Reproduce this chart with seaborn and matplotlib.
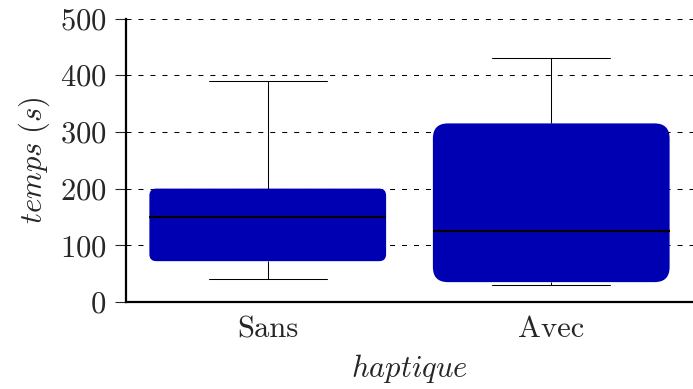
import pandas as pd
import matplotlib
matplotlib.use('Agg')
import matplotlib.pyplot as plt
import seaborn as sns
from matplotlib.patches import FancyBboxPatch

# five-number summaries (min, q1, median, q3, max)
categories = ['Sans', 'Avec']
sans_values = [40, 72, 150, 200, 390]
avec_values = [30, 35, 125, 315, 430]
yticks = [0, 100, 200, 300, 400, 500]

df = pd.DataFrame({
    'haptique': ['Sans'] * len(sans_values) + ['Avec'] * len(avec_values),
    'temps': sans_values + avec_values,
})

sns.set_style('white')
plt.rcParams['font.family'] = 'serif'
plt.rcParams['font.serif'] = ['cmr10', 'DejaVu Serif']
plt.rcParams['mathtext.fontset'] = 'cm'
plt.rcParams['axes.formatter.use_mathtext'] = True

blue = '#0000B3'
fs = 22

fig = plt.figure(figsize=(6.93, 3.89), dpi=100)
ax = fig.add_axes([0.1818, 0.2237, 0.8182, 0.7287])

sns.boxplot(data=df, x='haptique', y='temps', order=categories, ax=ax,
            width=0.835, whis=(0, 100), color=blue, saturation=1,
            linecolor='black', linewidth=0.75,
            medianprops=dict(color='black', linewidth=1.6))

ax.set_xlim(-0.5, 1.5)
ax.set_ylim(0, 500)
ax.set_yticks(yticks)

# swap the square boxes for rounded ones
fig.canvas.draw()
px = ax.transData.transform([(0, 0), (1, 1)])
aspect = (px[1, 0] - px[0, 0]) / (px[1, 1] - px[0, 1])
for p in list(ax.patches):
    ext = p.get_path().get_extents()
    h_px = ext.height / aspect * (px[1, 0] - px[0, 0])
    r = 0.095 * h_px / (px[1, 0] - px[0, 0])
    box = FancyBboxPatch((ext.x0, ext.y0), ext.width, ext.height,
                         boxstyle=f'round,pad=0,rounding_size={r}',
                         mutation_aspect=aspect, facecolor=blue,
                         edgecolor='none', zorder=1.9)
    p.remove()
    ax.add_patch(box)

ax.set_axisbelow(True)
ax.yaxis.grid(True, color='black', linestyle=(0, (4.8, 6.7)), linewidth=0.75)
ax.xaxis.grid(False)

for s in ['top', 'right']:
    ax.spines[s].set_visible(False)
for s in ['left', 'bottom']:
    ax.spines[s].set_linewidth(1.6)
    ax.spines[s].set_color('black')

ax.tick_params(axis='y', direction='out', length=8, width=0.8, pad=6, labelsize=fs, left=True)
ax.tick_params(axis='x', length=0, pad=10, labelsize=fs)

ax.set_xlabel(r'$haptique$', fontsize=fs, labelpad=6)
ax.set_ylabel(r'$temps\ (s)$', fontsize=fs, labelpad=6)

plt.savefig('out.png', dpi=100)
